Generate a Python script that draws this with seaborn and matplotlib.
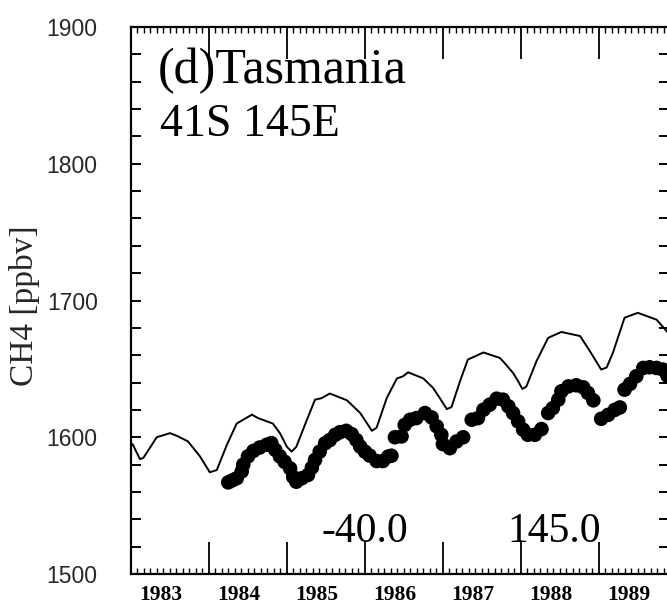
import numpy as np
import pandas as pd
import matplotlib
matplotlib.use("Agg")
import matplotlib.pyplot as plt
import matplotlib.transforms as mtransforms
from matplotlib.ticker import MultipleLocator, FixedLocator, NullFormatter
import seaborn as sns

# Model CH4 curve (ppbv)
model_year = [1983.02, 1983.115, 1983.16, 1983.33, 1983.50, 1983.59, 1983.73, 1983.885,
              1984.01, 1984.10, 1984.23, 1984.355, 1984.55, 1984.63, 1984.82, 1984.91,
              1985.00, 1985.06, 1985.12, 1985.23, 1985.36, 1985.44, 1985.55, 1985.77,
              1985.94, 1986.09, 1986.15, 1986.28, 1986.41, 1986.49, 1986.555, 1986.75,
              1986.875, 1986.96, 1987.05, 1987.11, 1987.22, 1987.32, 1987.52, 1987.73,
              1987.79, 1987.90, 1987.965, 1988.02, 1988.07, 1988.20, 1988.35, 1988.52,
              1988.76, 1988.885, 1989.03, 1989.10, 1989.18, 1989.33, 1989.50, 1989.74,
              1989.87, 1989.95]
model_ch4 = [1595, 1584, 1585, 1600, 1603, 1601, 1597, 1586,
             1574.4, 1576, 1594.5, 1610, 1616.5, 1614, 1610, 1603,
             1593, 1589.5, 1593, 1609, 1627.5, 1628.5, 1632, 1627,
             1617.7, 1604.7, 1607, 1628.7, 1643, 1644.6, 1647.5, 1643,
             1636, 1628.7, 1620.6, 1622, 1641, 1656.8, 1662, 1658,
             1654.4, 1647, 1641, 1635.3, 1637, 1655.6, 1672.7, 1677,
             1674, 1663, 1649.5, 1651, 1661.7, 1687.4, 1691, 1686,
             1677.6, 1671]

# Observed CH4 at Cape Grim (ppbv)
obs_year = [1984.247, 1984.30, 1984.355, 1984.42, 1984.44, 1984.50, 1984.57, 1984.65,
            1984.74, 1984.80, 1984.85, 1984.91, 1984.97, 1985.04, 1985.08, 1985.12,
            1985.19, 1985.27, 1985.32, 1985.36, 1985.42, 1985.49, 1985.55, 1985.62,
            1985.68, 1985.76, 1985.83, 1985.89, 1985.94, 1986.00, 1986.06, 1986.15,
            1986.23, 1986.30, 1986.34,
            1986.385, 1986.47, 1986.51, 1986.58, 1986.66, 1986.77, 1986.855, 1986.92,
            1986.98, 1987.00, 1987.09, 1987.175, 1987.26,
            1987.37, 1987.45, 1987.52, 1987.60, 1987.69, 1987.77, 1987.84, 1987.90,
            1987.965, 1988.03, 1988.09, 1988.18, 1988.265,
            1988.35, 1988.41, 1988.48, 1988.52, 1988.61, 1988.71, 1988.80, 1988.86,
            1988.93,
            1989.03, 1989.12, 1989.205, 1989.27,
            1989.33, 1989.40, 1989.48, 1989.57, 1989.65, 1989.74, 1989.82, 1989.88]
obs_ch4 = [1567, 1568.5, 1570, 1575, 1580, 1586, 1590, 1592.5,
           1594.5, 1595.7, 1590.8, 1586, 1582, 1577.3, 1571, 1567.5,
           1570, 1572.4, 1577.8, 1583.4, 1589.5, 1595.6, 1598, 1601.8,
           1603.7, 1604.7, 1602.3, 1598, 1593.2, 1589.5, 1586.6, 1582.6,
           1582.6, 1585.9, 1586.5,
           1600, 1600.6, 1609, 1612.8, 1614, 1617.7, 1614.5, 1608,
           1601.8, 1595, 1592, 1596.9, 1600,
           1612.8, 1614, 1620.1, 1623.8, 1628.2, 1627.5, 1622.6, 1617.7,
           1611.6, 1605.5, 1601.8, 1601.8, 1606,
           1617.7, 1621.3, 1627.5, 1633.6, 1637.2, 1638, 1636.5, 1632.4,
           1627,
           1613.5, 1616.4, 1620, 1621.8,
           1634.8, 1639, 1644.6, 1650.7, 1651.2, 1650.7, 1649.5, 1645]

year_labels = ["1983", "1984", "1985", "1986", "1987", "1988", "1989"]
y_ticks = [1500, 1600, 1700, 1800, 1900]

model_df = pd.DataFrame({"year": model_year, "ch4": model_ch4})
obs_df = pd.DataFrame({"year": obs_year, "ch4": obs_ch4})

sns.set_theme(style="ticks")
plt.rcParams["font.family"] = ["Liberation Serif", "DejaVu Serif"]

fig = plt.figure(figsize=(6.67, 6.06), dpi=100)
ax = fig.add_axes([131 / 667, 32 / 606, 538 / 667, 547 / 606])

sns.lineplot(data=model_df, x="year", y="ch4", ax=ax, color="black",
             linewidth=1.4, sort=False, estimator=None)
sns.scatterplot(data=obs_df, x="year", y="ch4", ax=ax, color="black",
                s=110, edgecolor="none", linewidth=0)

ax.set_xlim(1983.0, 1989.9)
ax.set_ylim(1500, 1900)

for side in ["left", "right", "top", "bottom"]:
    ax.spines[side].set_linewidth(1.6)
    ax.spines[side].set_color("black")

# y axis: labelled every 100, ticks every 20 on both sides
ax.yaxis.set_major_locator(FixedLocator(y_ticks))
ax.yaxis.set_minor_locator(MultipleLocator(20))
ax.set_yticklabels([str(v) for v in y_ticks], fontfamily="Liberation Sans", fontsize=16.5)
ax.tick_params(axis="y", which="both", direction="in", left=True, right=True,
               length=7, width=1.4, color="black", pad=24)

# x axis: long year ticks, short monthly ticks, top and bottom
ax.xaxis.set_major_locator(MultipleLocator(1))
ax.xaxis.set_minor_locator(MultipleLocator(1 / 12))
ax.xaxis.set_major_formatter(NullFormatter())
ax.tick_params(axis="x", which="major", direction="in", bottom=True, top=True,
               length=23, width=1.3, color="black")
ax.tick_params(axis="x", which="minor", direction="in", bottom=True, top=True,
               length=4.5, width=1.0, color="black")

ax.set_xlabel("")
ax.set_ylabel("CH4 [ppbv]", fontsize=24, fontfamily="Liberation Serif")
ax.yaxis.set_label_coords(-0.169, 0.49)

# year labels sit mid-year under the axis
trans = mtransforms.blended_transform_factory(ax.transData, ax.transAxes)
for lab in year_labels:
    ax.text(int(lab) + 0.385, -0.047, lab, transform=trans, ha="center",
            va="baseline", fontsize=15.5, fontweight="bold", color="black")

ax.text(0.050, 0.898, "(d)Tasmania", transform=ax.transAxes, fontsize=36,
        va="baseline", ha="left", color="black")
ax.text(0.054, 0.801, "41S 145E", transform=ax.transAxes, fontsize=33,
        va="baseline", ha="left", color="black")
ax.text(0.355, 0.0585, "-40.0", transform=ax.transAxes, fontsize=30,
        va="baseline", ha="left", color="black")
ax.text(0.699, 0.0585, "145.0", transform=ax.transAxes, fontsize=30,
        va="baseline", ha="left", color="black")

fig.savefig("out.png", dpi=100)
